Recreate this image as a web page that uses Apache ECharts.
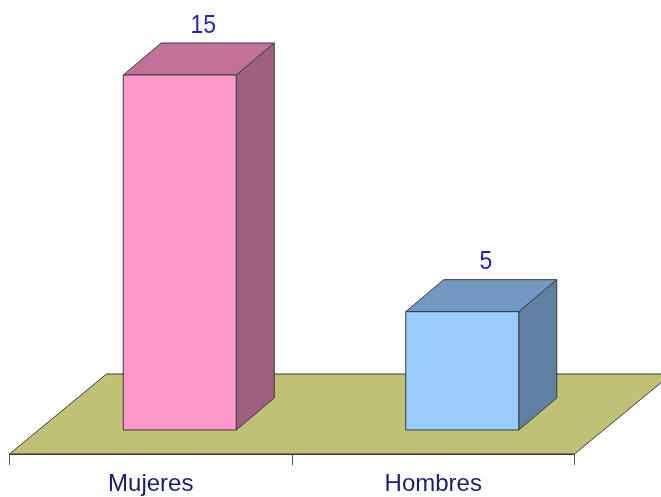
<!DOCTYPE html>
<html><head><meta charset="utf-8">
<style>html,body{margin:0;padding:0;background:#fff}#c{width:661px;height:497px}</style>
<script src="https://cdn.jsdelivr.net/npm/echarts@6/dist/echarts.min.js"></script>
</head><body><div id="c"></div>
<script>
const categories = ['Mujeres', 'Hombres'];
const values = [15, 5];
const frontColors = ['#ff99cc', '#99ccff'];
const topColors = ['#c27299', '#7299c2'];
const sideColors = ['#9e6080', '#6080a2'];
const floorColor = '#c1c077';
const edge = '#3a3a3a';
const barDepthX = 38, barDepthY = 32, floorDepthX = 97, floorDepthY = 80;
const frontInsetX = 29, barFrac = 0.4;

const chart = echarts.init(document.getElementById('c'), null, {renderer: 'canvas'});
chart.setOption({
  backgroundColor: '#ffffff',
  animation: false,
  grid: {left: 9.5, top: 75, width: 565, height: 379, containLabel: false},
  xAxis: {
    type: 'category', data: categories, boundaryGap: true,
    axisLine: {show: true, onZero: false, lineStyle: {color: '#333', width: 1}},
    axisTick: {show: true, alignWithLabel: false, length: 11, lineStyle: {color: '#555', width: 1}},
    axisLabel: {fontFamily: 'Liberation Sans', fontSize: 24, color: '#1b1b72', margin: 18},
    splitLine: {show: false}
  },
  yAxis: {type: 'value', min: -1.014, max: 15, show: false},
  series: [
    {
      type: 'custom', coordinateSystem: 'cartesian2d', silent: true, clip: false, z: 1,
      data: [[0, 0]],
      renderItem(params) {
        const g = params.coordSys;
        const y0 = g.y + g.height, x0 = g.x, x1 = g.x + g.width;
        return {type: 'polygon', shape: {points: [
          [x0, y0], [x1, y0], [x1 + floorDepthX, y0 - floorDepthY], [x0 + floorDepthX, y0 - floorDepthY]
        ]}, style: {fill: floorColor, stroke: edge, lineWidth: 1}};
      }
    },
    {
      type: 'custom', coordinateSystem: 'cartesian2d', silent: true, clip: false, z: 2,
      data: values.map((v, i) => [i, v]),
      renderItem(params, api) {
        const i = params.dataIndex;
        const top = api.coord([i, api.value(1)]), base = api.coord([i, 0]);
        const w = api.size([1, 0])[0] * barFrac;
        const l = top[0] + frontInsetX - w / 2, r = l + w, t = top[1], b = base[1];
        const dx = barDepthX, dy = barDepthY;
        const st = {stroke: edge, lineWidth: 1};
        return {type: 'group', children: [
          {type: 'polygon', shape: {points: [[r, t], [r + dx, t - dy], [r + dx, b - dy], [r, b]]},
           style: {fill: sideColors[i], ...st}},
          {type: 'polygon', shape: {points: [[l, t], [l + dx, t - dy], [r + dx, t - dy], [r, t]]},
           style: {fill: topColors[i], ...st}},
          {type: 'rect', shape: {x: l, y: t, width: w, height: b - t},
           style: {fill: frontColors[i], ...st}},
          {type: 'text', x: (l + r) / 2 + dx * 0.62, y: t - dy - 17.5, scaleY: 1.13, style: {
            text: String(api.value(1)), x: 0, y: 0,
            align: 'center', verticalAlign: 'middle',
            font: '23px "Liberation Sans"', fill: '#2222bb'
          }}
        ]};
      }
    }
  ]
});
</script></body></html>
